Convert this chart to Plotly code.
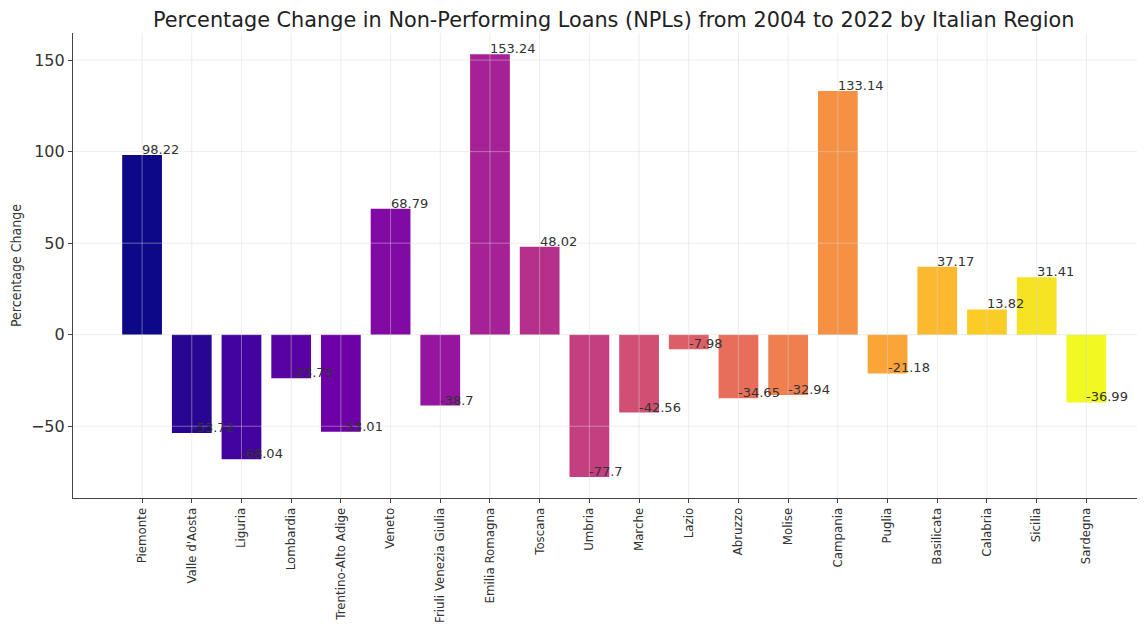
import plotly.graph_objects as go
from plotly.colors import sample_colorscale

regions = ["Piemonte", "Valle d'Aosta", "Liguria", "Lombardia", "Trentino-Alto Adige",
           "Veneto", "Friuli Venezia Giulia", "Emilia Romagna", "Toscana", "Umbria",
           "Marche", "Lazio", "Abruzzo", "Molise", "Campania", "Puglia", "Basilicata",
           "Calabria", "Sicilia", "Sardegna"]
pct_change = [98.22, -53.72, -68.04, -23.73, -53.01, 68.79, -38.7, 153.24, 48.02, -77.7,
              -42.56, -7.98, -34.65, -32.94, 133.14, -21.18, 37.17, 13.82, 31.41, -36.99]
y_ticks = [-50, 0, 50, 100, 150]

n = len(regions)
colors = sample_colorscale("Plasma", [i / (n - 1) for i in range(n)])
xs = list(range(n))

fig = go.Figure()
fig.add_trace(go.Bar(x=xs, y=pct_change, marker=dict(color=colors, line=dict(width=0)),
                     width=0.8, hoverinfo="x+y"))

# grid drawn above the bars, as in the reference
grid_color = "rgba(215,215,215,0.45)"
for x in xs:
    fig.add_shape(type="line", xref="x", yref="paper", x0=x, x1=x, y0=0, y1=1,
                  line=dict(color=grid_color, width=1), layer="above")
for t in y_ticks:
    fig.add_shape(type="line", xref="paper", yref="y", x0=0, x1=1, y0=t, y1=t,
                  line=dict(color=grid_color, width=1), layer="above")

for x, v in zip(xs, pct_change):
    fig.add_annotation(x=x, y=v, text=f"{v:g}", showarrow=False, xanchor="left",
                       yanchor="bottom", xshift=-2, yshift=-4,
                       font=dict(family="DejaVu Sans", size=13, color="#333333"))

fig.update_layout(
    width=1145, height=626,
    margin=dict(l=65, r=8, t=25, b=136),
    plot_bgcolor="white", paper_bgcolor="white",
    showlegend=False,
    bargap=0.2,
    title=dict(text="Percentage Change in Non-Performing Loans (NPLs) from 2004 to 2022 by Italian Region",
               x=0.529, xanchor="center", y=0.981, yanchor="middle",
               font=dict(family="DejaVu Sans", size=20.8, color="#222222")),
    font=dict(family="DejaVu Sans", color="#333333"),
)
fig.update_xaxes(
    range=[-1.39, 20.18], tickmode="array", tickvals=xs, ticktext=regions,
    tickangle=-90, tickfont=dict(size=11.8, color="#333333"), automargin=False,
    showgrid=False,
    showline=True, linecolor="#444444", linewidth=1.2,
    ticks="outside", ticklen=4, tickcolor="#444444", zeroline=False,
)
fig.update_yaxes(
    range=[-89.2, 164.8], tickmode="array", tickvals=y_ticks,
    ticktext=[("\u2212" + str(-t)) if t < 0 else str(t) for t in y_ticks],
    tickfont=dict(size=16, color="#333333"), automargin=False,
    title=dict(text="Percentage Change", standoff=10,
               font=dict(family="DejaVu Sans Condensed, DejaVu Sans", size=14, color="#333333")),
    showgrid=False,
    showline=True, linecolor="#444444", linewidth=1.2,
    ticks="outside", ticklen=4, tickcolor="#444444", zeroline=False,
)

fig.write_html("out.html")
